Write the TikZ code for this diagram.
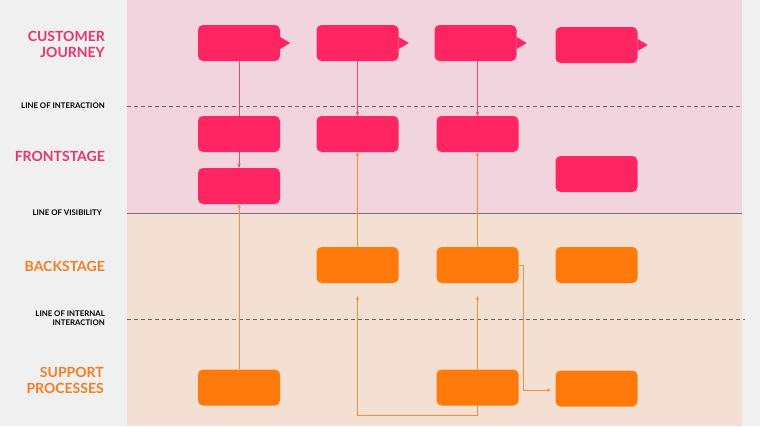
\documentclass[tikz,border=0pt]{standalone}
\usepackage{fontspec}
\setmainfont{Lato}
\usetikzlibrary{arrows.meta,positioning,shapes.geometric}

\definecolor{pinkbg}{HTML}{F2D4DE}
\definecolor{beigebg}{HTML}{F4E0D2}
\definecolor{sidegray}{HTML}{F0F0F0}
\definecolor{pinkbox}{HTML}{FF2462}
\definecolor{orangebox}{HTML}{FF7A0A}
\definecolor{pinktext}{HTML}{E93470}
\definecolor{orangetext}{HTML}{F07F25}
\definecolor{pinkline}{HTML}{E2467E}
\definecolor{orangeline}{HTML}{F78C38}
\definecolor{sepline}{HTML}{6E6266}

\pgfdeclarelayer{bg}
\pgfsetlayers{bg,main}

\begin{document}
\begin{tikzpicture}[x=1pt, y=-1pt,
        card/.style={rounded corners=5pt, minimum width=82pt, minimum height=36pt, inner sep=0pt},
        pcard/.style={card, fill=pinkbox},
        ocard/.style={card, fill=orangebox},
        lane/.style={font=\fontsize{14}{16}\selectfont\bfseries, align=right, anchor=east, inner sep=0pt},
        sep/.style={font=\fontsize{7.8}{9}\selectfont\bfseries, align=right, anchor=east, inner sep=0pt},
        parr/.style={-{Stealth[length=4pt, width=3.5pt]}, pinkline, line width=0.8pt},
        oarr/.style={-{Stealth[length=4pt, width=3.5pt]}, orangeline, line width=0.9pt}]
        \useasboundingbox (0,0) rectangle (760,426);
        % lanes
        \begin{pgfonlayer}{bg}
          \fill[sidegray] (0,0) rectangle (760,426);
          \fill[pinkbg] (127,0) rectangle (742,213);
          \fill[beigebg] (127,213) rectangle (742,426);
        \end{pgfonlayer}
        \draw[sepline, dashed, dash pattern=on 4pt off 3pt, line width=0.6pt] (127,106) -- (740,106);
        \draw[sepline!90, line width=1pt] (127,213) -- (742,213);
        \draw[sepline, dashed, dash pattern=on 4pt off 3pt, line width=0.6pt] (127,319) -- (745,319);

        % lane names
        \node[lane, pinktext] (cjl) at (105,44) {CUSTOMER\\JOURNEY};
        \node[sep] (loi) at (105,106) {LINE OF INTERACTION};
        \node[lane, pinktext] (fsl) at (105,156) {FRONTSTAGE};
        \node[sep] (lov) at (102,213) {LINE OF VISIBILITY};
        \node[lane, orangetext] (bsl) at (105,266) {BACKSTAGE};
        \node[sep] (lii) at (105,318.5) {LINE OF INTERNAL\\INTERACTION};
        \node[lane, orangetext] (spl) at (104,380) {SUPPORT\\PROCESSES};

        % customer journey
        \node[pcard] (cj1) at (239,43) {};
        \node[pcard] (cj2) at (357.5,43) {};
        \node[pcard] (cj3) at (475.5,43) {};
        \node[pcard] (cj4) at (596.5,45) {};
        \foreach \n in {cj1,cj2,cj3,cj4}
          \fill[pinkbox] ([yshift=-6pt]\n.east) -- ([xshift=10pt]\n.east) -- ([yshift=6pt]\n.east) -- cycle;

        % frontstage
        \node[pcard] (fs1) at (239,134) {};
        \node[pcard] (fs2) at (357.5,134) {};
        \node[pcard] (fs3) at (477.5,134) {};
        \node[pcard] (fs1b) at (239,186) {};
        \node[pcard] (fs4) at (596.5,174) {};

        % backstage
        \node[ocard] (bs2) at (357.5,265) {};
        \node[ocard] (bs3) at (477.5,265) {};
        \node[ocard] (bs4) at (596.5,265) {};

        % support processes
        \node[ocard] (sp1) at (239,387.5) {};
        \node[ocard] (sp3) at (477.5,387.5) {};
        \node[ocard] (sp4) at (596.5,388.5) {};

        \coordinate (t2) at (357.5,296);
        \coordinate (t3) at (477.5,296);
        \coordinate (t4) at (551,390);

        % connectors
        \begin{pgfonlayer}{bg}
          \draw[parr] (cj1.south) -- (fs1b.north);
        \end{pgfonlayer}
        \draw[parr] (cj2.south) -- (fs2.north);
        \draw[parr] (cj3.south -| fs3) -- (fs3.north);
        \draw[oarr] (sp1.north) -- (fs1b.south);
        \draw[oarr] (bs2.north) -- (fs2.south);
        \draw[oarr] (bs3.north) -- (fs3.south);
        \draw[oarr] (sp3.north) -- (t3);
        \draw[oarr] (sp3.south) -- ++(0,10) -| (t2);
        \draw[oarr] (bs3.east) -- ++(5,0) |- (t4);
      \end{tikzpicture}
\end{document}
